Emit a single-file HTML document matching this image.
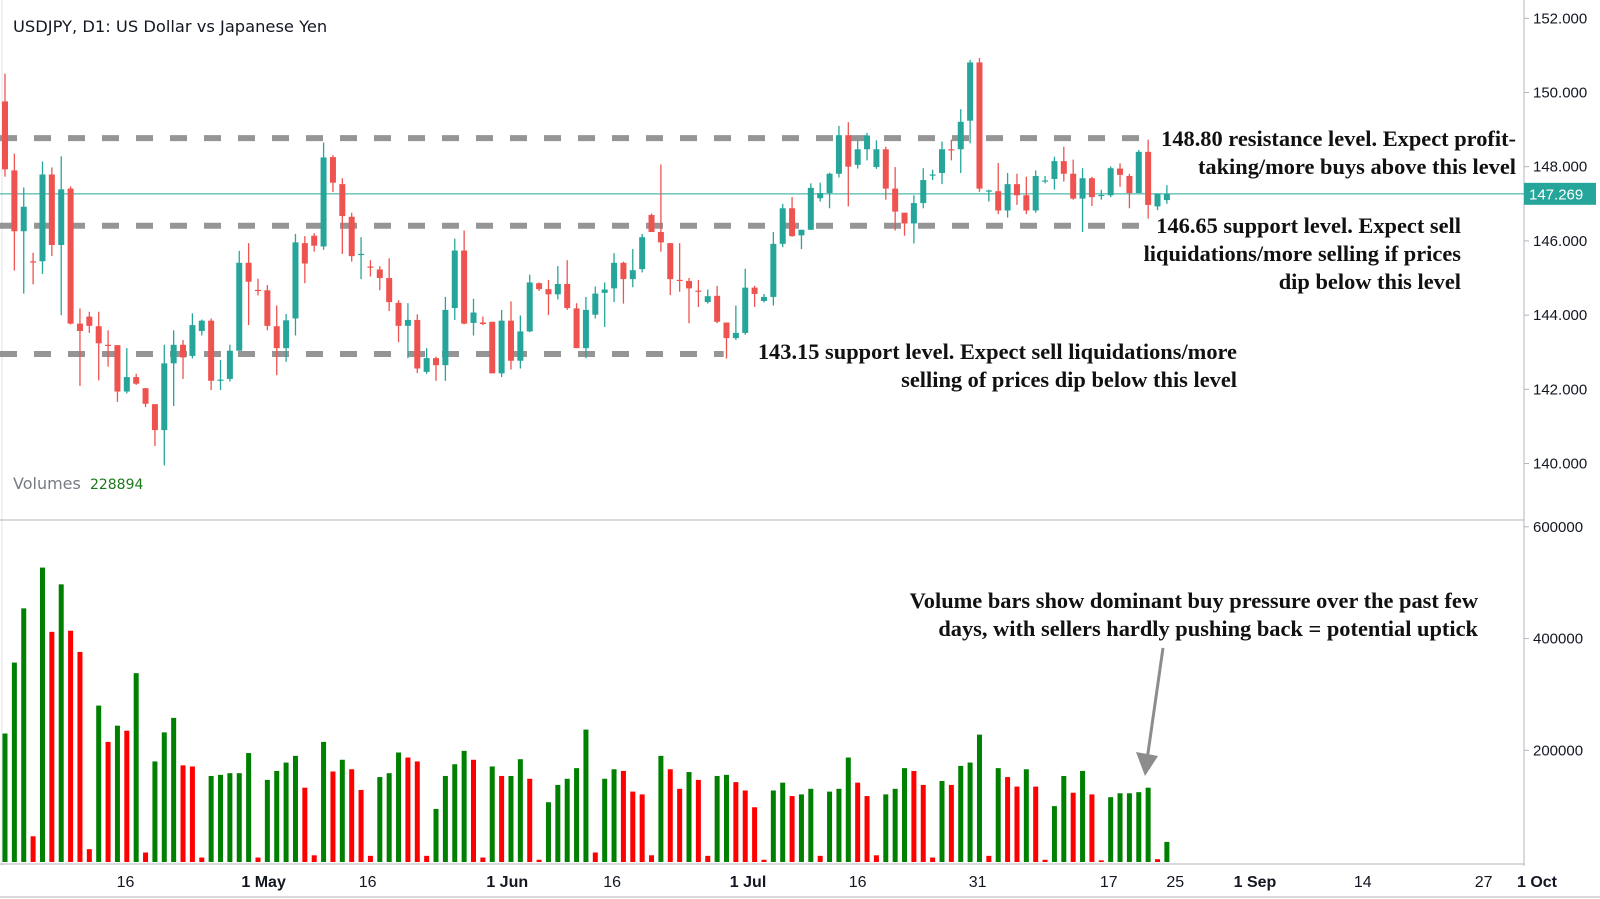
<!DOCTYPE html>
<html><head><meta charset="utf-8"><style>
html,body{margin:0;padding:0;background:#fff;}
svg{display:block;font-family:"Liberation Sans",sans-serif;}
.ann{font-family:"Liberation Serif",serif;font-weight:bold;font-size:22.4px;fill:#111;}
</style></head><body>
<svg id="chart" width="1600" height="899" viewBox="0 0 1600 899" xmlns="http://www.w3.org/2000/svg">
<rect x="0" y="0" width="1600" height="899" fill="#fff"/>
<line x1="2" y1="0" x2="2" y2="866" stroke="#e0e3eb"/>
<line x1="0" y1="897" x2="1600" y2="897" stroke="#d9d9d9" stroke-width="2"/>
<line x1="1524" y1="0" x2="1524" y2="866" stroke="#b2b5be"/>
<line x1="0" y1="520" x2="1524" y2="520" stroke="#b2b5be"/>
<line x1="0" y1="864" x2="1524" y2="864" stroke="#b2b5be"/>
<g id="grid"></g>
<g id="levels"></g>
<g id="candles"></g>
<g id="vols"></g>
<g id="axes"></g>
<text x="13" y="32" font-size="16.3" fill="#131722" style="font-family:'DejaVu Sans',sans-serif">USDJPY, D1: US Dollar vs Japanese Yen</text>
<text x="13" y="489" font-size="16" fill="#787b86" style="font-family:'DejaVu Sans',sans-serif">Volumes <tspan fill="#1a7a1a" dx="4" font-size="14">228894</tspan></text>
<g>
<text class="ann" x="1516" y="146" text-anchor="end">148.80 resistance level. Expect profit-</text>
<text class="ann" x="1516" y="174" text-anchor="end">taking/more buys above this level</text>
</g>
<g>
<text class="ann" x="1461" y="233" text-anchor="end">146.65 support level. Expect sell</text>
<text class="ann" x="1461" y="261" text-anchor="end">liquidations/more selling if prices</text>
<text class="ann" x="1461" y="289" text-anchor="end">dip below this level</text>
</g>
<g>
<text class="ann" x="1237" y="359" text-anchor="end">143.15 support level. Expect sell liquidations/more</text>
<text class="ann" x="1237" y="387" text-anchor="end">selling of prices dip below this level</text>
</g>
<g>
<text class="ann" x="1478" y="608" text-anchor="end">Volume bars show dominant buy pressure over the past few</text>
<text class="ann" x="1478" y="636" text-anchor="end">days, with sellers hardly pushing back = potential uptick</text>
</g>
<g>
<line x1="1163" y1="648" x2="1147" y2="760" stroke="#8c8c8c" stroke-width="3"/>
<polygon points="1136,752 1158,756 1145,776" fill="#8c8c8c"/>
</g>
</svg>
<script>
const openP=[149.76,147.90,146.26,145.45,145.45,147.79,145.89,147.41,143.77,143.96,143.70,143.20,143.19,141.94,142.33,142.03,141.60,140.90,142.70,143.20,142.90,143.57,143.85,142.24,142.28,143.04,145.41,144.68,144.67,143.70,143.11,143.91,145.94,146.14,145.85,148.26,147.53,146.65,145.63,145.31,145.23,145.00,144.33,143.71,143.87,142.47,142.84,142.65,144.19,145.74,143.79,143.80,143.82,142.43,143.85,142.77,143.56,144.86,144.70,144.56,144.84,144.18,143.11,144.01,144.60,144.72,145.41,144.97,145.24,146.70,146.24,145.94,144.95,144.92,144.66,144.35,144.52,143.80,143.38,143.52,144.74,144.38,144.49,145.92,146.88,146.15,146.30,147.15,147.29,147.81,148.85,148.05,148.47,147.99,148.47,147.41,146.76,146.47,147.02,147.78,147.83,148.47,148.47,149.24,150.81,147.34,147.34,146.82,147.53,147.23,146.82,147.61,147.67,148.15,147.81,147.14,147.69,147.23,147.23,147.95,147.75,147.29,148.40,146.93,147.10];
const highP=[150.51,148.35,147.44,145.68,148.14,147.98,148.28,147.47,144.18,144.09,144.09,143.59,143.19,143.11,142.42,142.03,141.60,143.20,143.59,143.33,144.05,143.88,143.91,142.79,143.20,145.73,145.94,144.98,144.81,144.26,144.03,146.19,146.13,146.21,148.65,148.31,147.69,146.76,146.10,145.48,145.32,145.53,144.40,144.32,144.02,143.11,142.88,144.49,146.06,146.28,144.44,143.96,143.82,144.14,144.37,143.99,145.09,144.88,144.95,145.32,145.48,144.32,144.49,144.77,144.88,145.67,145.44,145.78,146.19,146.74,148.06,145.94,145.94,145.00,144.95,144.69,144.79,143.80,144.26,145.25,144.79,144.57,146.24,147.00,147.18,146.30,147.55,147.57,147.84,149.10,149.20,148.70,148.91,148.71,148.54,147.99,146.76,147.23,147.96,147.92,148.68,148.73,149.55,150.88,150.93,147.38,148.10,147.83,147.81,147.73,147.90,147.75,148.27,148.54,148.19,147.96,147.73,147.38,148.01,148.09,147.81,148.45,148.73,147.00,147.50];
const lowP=[147.73,145.20,144.58,144.83,145.11,145.59,144.00,143.75,142.09,143.52,142.24,142.61,141.66,141.89,142.12,141.52,140.47,139.95,141.55,142.28,142.83,143.45,141.98,141.98,142.21,143.04,143.73,144.53,143.59,142.38,142.74,143.45,144.86,145.71,145.76,147.32,145.65,145.44,144.97,145.04,144.67,144.11,143.27,142.84,142.44,142.42,142.23,142.23,143.87,143.75,143.45,143.73,142.43,142.33,142.53,142.56,143.54,144.65,144.00,144.42,144.14,143.11,142.84,143.91,143.68,144.35,144.31,144.75,145.15,146.24,145.71,144.54,144.63,143.78,144.22,144.31,143.78,142.83,143.33,143.47,144.22,144.34,144.26,145.83,146.11,145.78,146.30,147.06,146.88,147.71,146.93,147.95,148.17,147.94,147.11,146.28,146.14,145.93,146.88,147.64,147.53,148.17,147.83,148.63,147.32,147.06,146.72,146.63,146.97,146.72,146.76,147.55,147.38,147.60,147.11,146.24,146.94,147.11,147.18,147.46,146.88,147.29,146.60,146.83,147.00];
const closeP=[147.93,146.26,146.92,145.44,147.79,145.89,147.39,143.77,143.57,143.71,143.24,143.18,141.94,142.33,142.15,141.61,140.90,142.70,143.20,142.86,143.73,143.85,142.23,142.26,143.04,145.41,144.90,144.66,143.71,143.11,143.86,145.96,145.39,145.87,148.25,147.57,146.67,145.59,145.65,145.28,145.00,144.35,143.71,143.87,142.56,142.84,142.65,144.14,145.74,143.77,144.07,143.76,142.43,143.85,142.77,143.56,144.88,144.70,144.56,144.84,144.19,143.11,144.14,144.58,144.69,145.41,144.97,145.21,146.10,146.24,145.96,144.97,144.94,144.72,144.65,144.51,143.82,143.38,143.52,144.74,144.57,144.49,145.92,146.88,146.13,146.30,147.43,147.29,147.81,148.85,148.00,148.47,148.84,148.47,147.41,146.79,146.47,147.02,147.64,147.79,148.47,148.46,149.21,150.81,147.41,147.36,146.82,147.53,147.23,146.82,147.75,147.63,148.15,147.81,147.14,147.69,147.18,147.24,147.96,147.78,147.29,148.40,146.97,147.28,147.27];
const volumeK=[230,357,454,46,527,412,497,414,376,23,280,215,244,235,338,17,180,232,258,173,171,8,154,156,159,159,195,8,147,163,178,190,133,12,215,162,183,166,129,11,152,159,196,187,180,11,95,154,175,199,183,8,171,154,154,184,149,4,107,138,149,168,237,17,149,166,163,126,121,12,190,166,131,161,147,11,154,156,143,128,98,4,128,142,118,121,131,11,126,131,187,142,118,12,121,131,168,163,138,8,145,138,172,178,228,11,168,152,135,166,135,4,100,154,124,163,121,3,116,123,123,125,133,5,36];
const volumeUp="gggrgrgrrrgrgrgrgggrrrgggggrggggrrgrgrrrgggrrrggggrrgrggrrgggggrggrrrrgrrgrrggrrrrggrggrgggrrrgggrrrgrgggrgrrgrrggrgrrgggggrg";
const priceTicks=[152,150,148,146,144,142,140];
const volTicks=[600000,400000,200000];
const dateLabels=["16","1 May","16","1 Jun","16","1 Jul","16","31","17","25","1 Sep","14","27","1 Oct"];
const dateIdx=[12.86,27.6,38.7,53.6,64.8,79.3,91.0,103.8,117.8,124.9,133.4,144.9,157.8,163.5];
const levelValues=[148.77,146.41,142.95];
const levelEndIdx=[122.6,122.5,76.7];
const lastPrice=147.269;

const NS="http://www.w3.org/2000/svg";
const xi=i=>5+i*9.37;
const yp=p=>18.3+(152-p)*37.1;
const yv=v=>862-v/1790;
function mk(tag,attrs,parent){const e=document.createElementNS(NS,tag);for(const k in attrs)e.setAttribute(k,attrs[k]);parent.appendChild(e);return e;}
const gC=document.getElementById('candles'),gV=document.getElementById('vols'),gA=document.getElementById('axes'),gL=document.getElementById('levels');

levelValues.forEach((v,k)=>{
  const l=mk('line',{x1:0,x2:xi(levelEndIdx[k]),y1:yp(v),y2:yp(v),stroke:'#8a8a8a','stroke-width':6,'stroke-dasharray':'17 17','stroke-opacity':0.9},gL);
  
  
});
const pl=mk('line',{x1:0,x2:1524,y1:yp(lastPrice),y2:yp(lastPrice),stroke:'#26a69a','stroke-width':1},gL);



for(let i=0;i<openP.length;i++){
  const up=closeP[i]>=openP[i];const col=up?'#26a69a':'#ef5350';
  const g=mk('g',{},gC);
  
  
  const x=xi(i);
  mk('line',{x1:x,x2:x,y1:yp(highP[i]),y2:yp(lowP[i]),stroke:col,'stroke-width':1.3},g);
  const t=yp(Math.max(openP[i],closeP[i])),b=yp(Math.min(openP[i],closeP[i]));
  mk('rect',{x:x-3,y:t,width:6,height:Math.max(1.2,b-t),fill:col},g);
}
for(let i=0;i<volumeK.length;i++){
  const v=volumeK[i]*1000;const y=yv(v);
  const r=mk('rect',{x:xi(i)-2.5,y:y,width:5,height:862-y,fill:volumeUp[i]==='g'?'#008000':'#ff0000'},gV);
  
  
}
priceTicks.forEach(p=>{
  const t=mk('text',{x:1533,y:yp(p)+5,'font-size':15,fill:'#131722'},gA);t.textContent=p.toFixed(3);
  
  
  mk('line',{x1:1524,x2:1529,y1:yp(p),y2:yp(p),stroke:'#b2b5be'},gA);
});
volTicks.forEach(v=>{
  const t=mk('text',{x:1533,y:yv(v)+5,'font-size':15,fill:'#131722'},gA);t.textContent=String(v);
  
  
  mk('line',{x1:1524,x2:1529,y1:yv(v),y2:yv(v),stroke:'#b2b5be'},gA);
});
dateLabels.forEach((d,k)=>{
  const bold=d.length>2;
  const t=mk('text',{x:xi(dateIdx[k]),y:887,'font-size':16,'text-anchor':'middle',fill:'#131722','font-weight':bold?'bold':'normal'},gA);
  t.textContent=d;
  
  
});
const lb=mk('rect',{x:1524,y:yp(lastPrice)-11,width:72,height:22,fill:'#26a69a'},gA);


const lt=mk('text',{x:1529,y:yp(lastPrice)+5.5,'font-size':15,fill:'#fff'},gA);
lt.textContent=lastPrice.toFixed(3);


</script>
</body></html>
